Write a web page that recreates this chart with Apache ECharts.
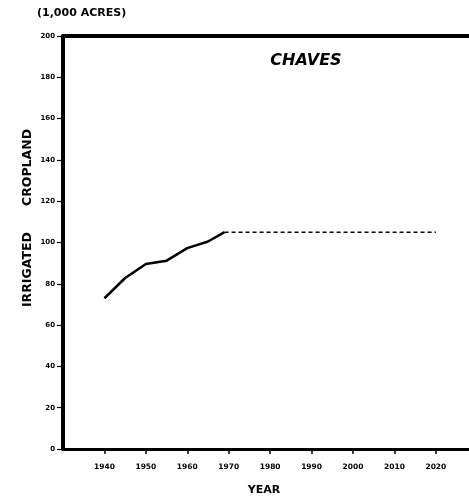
<!DOCTYPE html>
<html>
<head>
<meta charset="utf-8">
<script src="https://cdn.jsdelivr.net/npm/echarts@6/dist/echarts.min.js"></script>
<style>
  html, body { margin: 0; padding: 0; background: #fff; }
  #chart { width: 469px; height: 503px; }
</style>
</head>
<body>
<div id="chart"></div>
<script>
// Irrigated cropland in Chaves County, thousands of acres
const historicalYears = [1940, 1945, 1950, 1955, 1960, 1965, 1969];
const historicalAcres = [73, 82.8, 89.6, 91.2, 97.3, 100.5, 105];
const projectedYears = [1969, 2020];
const projectedAcres = [105, 105];
const yTicks = [0, 20, 40, 60, 80, 100, 120, 140, 160, 180, 200];
const xTicks = [1940, 1950, 1960, 1970, 1980, 1990, 2000, 2010, 2020];

const FONT = '"DejaVu Sans", sans-serif';
const INK = '#000';

const pairs = (xs, ys) => xs.map((x, i) => [x, ys[i]]);

const chart = echarts.init(document.getElementById('chart'), null, { renderer: 'canvas' });

chart.setOption({
  animation: false,
  backgroundColor: '#fff',
  grid: { left: 63, right: 0, top: 36, bottom: 54, containLabel: false },
  xAxis: [
    {
      type: 'value',
      min: 1930,
      max: 2028,
      interval: 10,
      axisLine: { show: true, onZero: false, lineStyle: { color: INK, width: 3 } },
      axisTick: { show: true, length: 5, lineStyle: { color: INK, width: 1.5 } },
      axisLabel: {
        color: INK, fontFamily: FONT, fontWeight: 'bold', fontSize: 7.5, margin: 14,
        showMinLabel: false, showMaxLabel: false,
        formatter: v => (xTicks.indexOf(v) >= 0 ? String(v) : '')
      },
      splitLine: { show: false }
    },
    {
      type: 'value',
      position: 'top',
      min: 1930,
      max: 2028,
      axisLine: { show: true, onZero: false, lineStyle: { color: INK, width: 4 } },
      axisTick: { show: false },
      axisLabel: { show: false },
      splitLine: { show: false }
    }
  ],
  yAxis: {
    type: 'value',
    min: 0,
    max: 200,
    interval: 20,
    axisLine: { show: true, onZero: false, lineStyle: { color: INK, width: 4 } },
    axisTick: { show: true, length: 6, lineStyle: { color: INK, width: 1.2 } },
    axisLabel: {
      color: INK, fontFamily: FONT, fontWeight: 'bold', fontSize: 7, margin: 8,
      formatter: v => (yTicks.indexOf(v) >= 0 ? String(v) : '')
    },
    splitLine: { show: false }
  },
  series: [
    {
      type: 'line',
      data: pairs(historicalYears, historicalAcres),
      showSymbol: false,
      lineStyle: { color: INK, width: 2.5, type: 'solid' },
      z: 3
    },
    {
      type: 'line',
      data: pairs(projectedYears, projectedAcres),
      showSymbol: false,
      lineStyle: { color: INK, width: 1.5, type: [4, 3] },
      z: 3
    }
  ],
  graphic: [
    {
      type: 'text', left: 37, top: 8,
      style: { text: '(1,000 ACRES)', fill: INK, font: 'bold 11px ' + FONT }
    },
    {
      type: 'text', x: 306, y: 61,
      style: {
        text: 'CHAVES', fill: INK, font: 'italic bold 16px ' + FONT,
        align: 'center', verticalAlign: 'middle'
      }
    },
    {
      type: 'text', x: 28, y: 218, rotation: Math.PI / 2,
      style: {
        text: 'IRRIGATED      CROPLAND', fill: INK, font: 'bold 12.5px ' + FONT,
        align: 'center', verticalAlign: 'middle'
      }
    },
    {
      type: 'text', x: 264, y: 490,
      style: {
        text: 'YEAR', fill: INK, font: 'bold 11px ' + FONT,
        align: 'center', verticalAlign: 'middle'
      }
    }
  ]
});
</script>
</body>
</html>
